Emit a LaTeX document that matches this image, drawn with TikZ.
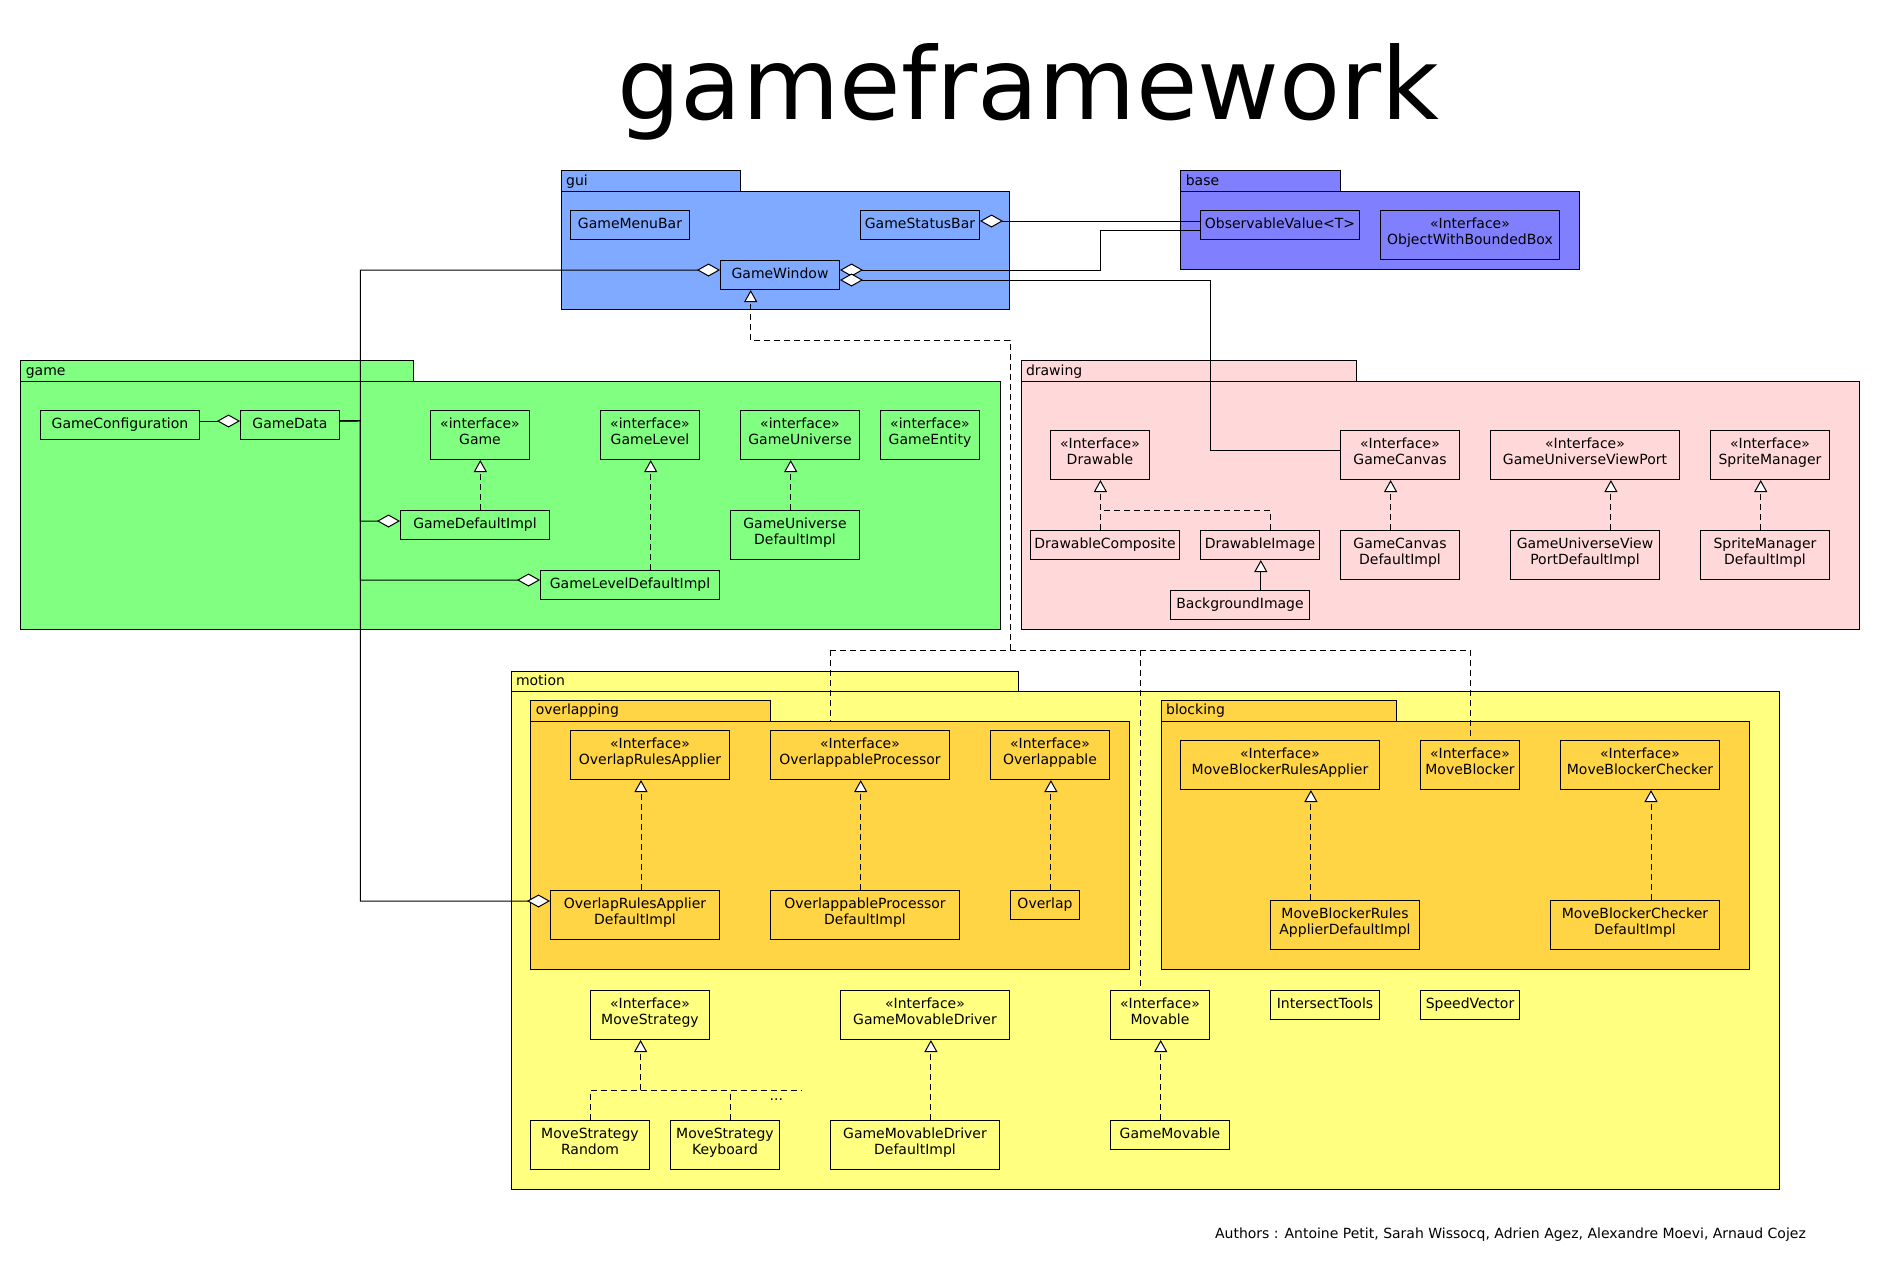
\documentclass[tikz,border=0pt]{standalone}
\usepackage{fontspec}
\setmainfont{DejaVu Sans}
\usetikzlibrary{arrows.meta,calc}
\definecolor{cgui}{HTML}{80AAFF}
\definecolor{cbase}{HTML}{8080FF}
\definecolor{cgame}{HTML}{80FF80}
\definecolor{cdraw}{HTML}{FFD9D9}
\definecolor{cmotion}{HTML}{FFFF80}
\definecolor{csub}{HTML}{FFD445}
\newcommand\umlfont{\fontsize{14}{16.5}\selectfont}
\tikzset{
  cls1/.style={draw, line width=1pt, inner sep=0pt, font=\umlfont, minimum height=29pt, text height=10.5pt, text depth=4.3pt},
  cls2/.style={draw, line width=1pt, inner sep=0pt, align=center, font=\umlfont, minimum height=49pt, text height=27.1pt, text depth=8.1pt},
  pkgbody/.style={draw, line width=1pt, inner sep=0pt, anchor=north west},
  pkgtab/.style={draw, line width=1pt, inner xsep=5pt, inner ysep=0pt, anchor=north west, minimum height=21pt, font=\umlfont, align=left, text height=10.5pt, text depth=3pt},
  agg/.style={line width=1pt, {Diamond[fill=white, length=23pt, width=13pt, line width=1pt]}-},
  dsh/.style={line width=1pt, dash pattern=on 6pt off 4pt},
  real/.style={dsh, -{Triangle[fill=white, length=12pt, width=13pt, line width=1pt]}},
  gen/.style={line width=1pt, -{Triangle[fill=white, length=12pt, width=13pt, line width=1pt]}},
}
\begin{document}
\begin{tikzpicture}[x=1pt,y=-1pt]
\fill[white] (0,0) rectangle (1880,1270);
\useasboundingbox (0,0) rectangle (1880,1270);

% title
\node[font=\fontsize{100}{120}\selectfont, anchor=base, inner sep=0pt] (title) at (1028.6,119) {gameframework};

% ---------- packages ----------
\node[pkgtab, fill=cgui, text width=169.3pt] (guiTab) at (560.7,170.3) {gui};
\node[pkgbody, fill=cgui, minimum width=448.6pt, minimum height=117.7pt] (guiBody) at (560.7,191.3) {};
\node[pkgtab, fill=cbase, text width=150pt] (baseTab) at (1180.3,170.3) {base};
\node[pkgbody, fill=cbase, minimum width=399pt, minimum height=78pt] (baseBody) at (1180.3,191.3) {};
\node[pkgtab, fill=cgame, text width=382.4pt] (gameTab) at (20.3,360.3) {game};
\node[pkgbody, fill=cgame, minimum width=979.4pt, minimum height=248pt] (gameBody) at (20.3,381.3) {};
\node[pkgtab, fill=cdraw, text width=325.7pt] (drawTab) at (1020.5,360.3) {drawing};
\node[pkgbody, fill=cdraw, minimum width=838.5pt, minimum height=248pt] (drawBody) at (1020.5,381.3) {};
\node[pkgtab, fill=cmotion, text width=497.6pt, minimum height=20.6pt] (motionTab) at (510.5,670.7) {motion};
\node[pkgbody, fill=cmotion, minimum width=1268.8pt, minimum height=498pt] (motionBody) at (510.5,691.3) {};
\node[pkgtab, fill=csub, text width=229.9pt, minimum height=20.7pt] (overTab) at (530.3,700.3) {overlapping};
\node[pkgbody, fill=csub, minimum width=598.9pt, minimum height=248.3pt] (overBody) at (530.3,721) {};
\node[pkgtab, fill=csub, text width=225.7pt, minimum height=20.7pt] (blockTab) at (1160.6,700.3) {blocking};
\node[pkgbody, fill=csub, minimum width=588.8pt, minimum height=248.3pt] (blockBody) at (1160.6,721) {};

% ---------- classes ----------
% gui / base
\node[cls1, minimum width=119pt] (GameMenuBar) at (630,225) {GameMenuBar};
\node[cls1, minimum width=119pt] (GameStatusBar) at (920,225) {GameStatusBar};
\node[cls1, minimum width=119pt] (GameWindow) at (780,275) {GameWindow};
\node[cls1, minimum width=159pt] (ObservableValue) at (1280,225) {ObservableValue<T>};
\node[cls2, minimum width=179pt] (ObjectWithBoundedBox) at (1470,235) {«Interface»\\ObjectWithBoundedBox};
% game
\node[cls1, minimum width=159pt] (GameConfiguration) at (120,425) {GameConfiguration};
\node[cls1, minimum width=99pt] (GameData) at (290,425) {GameData};
\node[cls2, minimum width=99pt] (Game) at (480,435) {«interface»\\Game};
\node[cls2, minimum width=99pt] (GameLevel) at (650,435) {«interface»\\GameLevel};
\node[cls2, minimum width=119pt] (GameUniverse) at (800,435) {«interface»\\GameUniverse};
\node[cls2, minimum width=99pt] (GameEntity) at (930,435) {«interface»\\GameEntity};
\node[cls1, minimum width=149pt] (GameDefaultImpl) at (475,525) {GameDefaultImpl};
\node[cls1, minimum width=179pt] (GameLevelDefaultImpl) at (630,585) {GameLevelDefaultImpl};
\node[cls2, minimum width=129pt] (GameUniverseDefaultImpl) at (795,535) {GameUniverse\\DefaultImpl};
% drawing
\node[cls2, minimum width=99pt] (Drawable) at (1100,455) {«Interface»\\Drawable};
\node[cls1, minimum width=149pt] (DrawableComposite) at (1105,545) {DrawableComposite};
\node[cls1, minimum width=119pt] (DrawableImage) at (1260,545) {DrawableImage};
\node[cls1, minimum width=139pt] (BackgroundImage) at (1240,605) {BackgroundImage};
\node[cls2, minimum width=119pt] (GameCanvas) at (1400,455) {«Interface»\\GameCanvas};
\node[cls2, minimum width=119pt] (GameCanvasDefaultImpl) at (1400,555) {GameCanvas\\DefaultImpl};
\node[cls2, minimum width=189pt] (GameUniverseViewPort) at (1585,455) {«Interface»\\GameUniverseViewPort};
\node[cls2, minimum width=149pt] (GUVPDefaultImpl) at (1585,555) {GameUniverseView\\PortDefaultImpl};
\node[cls2, minimum width=119pt] (SpriteManager) at (1770,455) {«Interface»\\SpriteManager};
\node[cls2, minimum width=129pt] (SpriteManagerDefaultImpl) at (1765,555) {SpriteManager\\DefaultImpl};
% overlapping
\node[cls2, minimum width=159pt] (OverlapRulesApplier) at (650,755) {«Interface»\\OverlapRulesApplier};
\node[cls2, minimum width=179pt] (OverlappableProcessor) at (860,755) {«Interface»\\OverlappableProcessor};
\node[cls2, minimum width=119pt] (Overlappable) at (1050,755) {«Interface»\\Overlappable};
\node[cls2, minimum width=169pt] (ORADefaultImpl) at (635,915) {OverlapRulesApplier\\DefaultImpl};
\node[cls2, minimum width=189pt] (OPDefaultImpl) at (865,915) {OverlappableProcessor\\DefaultImpl};
\node[cls1, minimum width=69pt] (Overlap) at (1045,905) {Overlap};
% blocking
\node[cls2, minimum width=199pt] (MoveBlockerRulesApplier) at (1280,765) {«Interface»\\MoveBlockerRulesApplier};
\node[cls2, minimum width=99pt] (MoveBlocker) at (1470,765) {«Interface»\\MoveBlocker};
\node[cls2, minimum width=159pt] (MoveBlockerChecker) at (1640,765) {«Interface»\\MoveBlockerChecker};
\node[cls2, minimum width=149pt] (MBRADefaultImpl) at (1345,925) {MoveBlockerRules\\ApplierDefaultImpl};
\node[cls2, minimum width=169pt] (MBCDefaultImpl) at (1635,925) {MoveBlockerChecker\\DefaultImpl};
% motion
\node[cls2, minimum width=119pt] (MoveStrategy) at (650,1015) {«Interface»\\MoveStrategy};
\node[cls2, minimum width=169pt] (GameMovableDriver) at (925,1015) {«Interface»\\GameMovableDriver};
\node[cls2, minimum width=99pt] (Movable) at (1160,1015) {«Interface»\\Movable};
\node[cls1, minimum width=109pt] (IntersectTools) at (1325,1005) {IntersectTools};
\node[cls1, minimum width=99pt] (SpeedVector) at (1470,1005) {SpeedVector};
\node[cls2, minimum width=119pt] (MoveStrategyRandom) at (590,1145) {MoveStrategy\\Random};
\node[cls2, minimum width=109pt] (MoveStrategyKeyboard) at (725,1145) {MoveStrategy\\Keyboard};
\node[cls2, minimum width=169pt] (GMDDefaultImpl) at (915,1145) {GameMovableDriver\\DefaultImpl};
\node[cls1, minimum width=119pt] (GameMovable) at (1170,1135) {GameMovable};
\node[font=\umlfont, inner sep=0pt] (dots) at (776.3,1100) {...};

% ---------- aggregations ----------
\draw[agg] ([yshift=4pt]GameStatusBar.east) -- ([yshift=4pt]ObservableValue.west);
\draw[agg] ([yshift=5pt]GameWindow.east) -- (1100.7,270) -- (1100.7,230.3) -- ([yshift=-5.3pt]ObservableValue.west);
\draw[agg] ([yshift=-5pt]GameWindow.east) -| (1210.3,450) -- ([yshift=5pt]GameCanvas.west);
\draw[agg] ([yshift=4pt]GameData.west) -- ([yshift=4pt]GameConfiguration.east);
\draw[agg] ([yshift=5pt]GameWindow.west) -| (360.3,420.7) -- ([yshift=4pt]GameData.east);
\draw[agg] ([yshift=4pt]GameDefaultImpl.west) -| (360.3,420.7) -- ([yshift=4pt]GameData.east);
\draw[agg] ([yshift=5pt]GameLevelDefaultImpl.west) -| (360.3,420.7) -- ([yshift=4pt]GameData.east);
\draw[agg] ([yshift=14pt]ORADefaultImpl.west) -| (360.3,420.7) -- ([yshift=4pt]GameData.east);

% ---------- realizations ----------
\coordinate (r1) at ($(GameDefaultImpl.north)+(5.3,0)$);
\draw[real] (r1) -- (r1 |- Game.south);
\coordinate (r2) at ($(GameLevelDefaultImpl.north)+(20.7,0)$);
\draw[real] (r2) -- (r2 |- GameLevel.south);
\coordinate (r3) at ($(GameUniverseDefaultImpl.north)+(-4.3,0)$);
\draw[real] (r3) -- (r3 |- GameUniverse.south);
\coordinate (r4) at ($(GameCanvasDefaultImpl.north)+(-9.4,0)$);
\draw[real] (r4) -- (r4 |- GameCanvas.south);
\coordinate (r5) at ($(GUVPDefaultImpl.north)+(25.9,0)$);
\draw[real] (r5) -- (r5 |- GameUniverseViewPort.south);
\coordinate (r6) at ($(SpriteManagerDefaultImpl.north)+(-4.3,0)$);
\draw[real] (r6) -- (r6 |- SpriteManager.south);
\coordinate (r7) at ($(ORADefaultImpl.north)+(6,0)$);
\draw[real] (r7) -- (r7 |- OverlapRulesApplier.south);
\coordinate (r8) at ($(OPDefaultImpl.north)+(-4.3,0)$);
\draw[real] (r8) -- (r8 |- OverlappableProcessor.south);
\coordinate (r9) at ($(Overlap.north)+(5.9,0)$);
\draw[real] (r9) -- (r9 |- Overlappable.south);
\coordinate (r10) at ($(MBRADefaultImpl.north)+(-34.1,0)$);
\draw[real] (r10) -- (r10 |- MoveBlockerRulesApplier.south);
\coordinate (r11) at ($(MBCDefaultImpl.north)+(16,0)$);
\draw[real] (r11) -- (r11 |- MoveBlockerChecker.south);
\coordinate (r12) at ($(GMDDefaultImpl.north)+(15.9,0)$);
\draw[real] (r12) -- (r12 |- GameMovableDriver.south);
\coordinate (r13) at ($(GameMovable.north)+(-9.3,0)$);
\draw[real] (r13) -- (r13 |- Movable.south);

% drawable
\coordinate (jD) at (1100.4,510.3);
\coordinate (dc) at ($(DrawableComposite.north)+(-4.6,0)$);
\coordinate (di) at ($(DrawableImage.north)+(10.2,0)$);
\draw[dsh] (dc) -- (dc |- jD);
\draw[real] (di) |- (jD) -- (jD |- Drawable.south);
\coordinate (bg) at ($(BackgroundImage.north)+(20.8,0)$);
\draw[gen] (bg) -- (bg |- DrawableImage.south);

% move strategy
\coordinate (jM) at (640.6,1090.3);
\coordinate (msR) at ($(MoveStrategyRandom.north)+(0.6,0)$);
\coordinate (msK) at ($(MoveStrategyKeyboard.north)+(5.7,0)$);
\coordinate (msE) at (801.5,1090.3);
\draw[dsh] (msR) -- (msR |- jM) -- (msE);
\draw[dsh] (msK) -- (msK |- jM);
\draw[real] (jM) -- (jM |- MoveStrategy.south);

% game window network
\coordinate (gw) at ($(GameWindow.south)+(-29.3,0)$);
\coordinate (gwC) at (1010.3,340.3);
\coordinate (jH) at (1010.3,650.3);
\coordinate (hL) at (830.4,650.3);
\coordinate (mv) at ($(Movable.north)+(-19.4,0)$);
\coordinate (mb) at ($(MoveBlocker.north)+(0.5,0)$);
\draw[real] (jH) -- (gwC) -| (gw);
\draw[dsh] (hL) -- (mb |- hL);
\draw[dsh] (hL) -- (hL |- overBody.north);
\draw[dsh] (mv |- hL) -- (mv);
\draw[dsh] (mb |- hL) -- (mb);

% authors
\node[font=\umlfont, anchor=base east, inner sep=0pt] (authors) at (1806,1238) {Authors : Antoine Petit, Sarah Wissocq, Adrien Agez, Alexandre Moevi, Arnaud Cojez};
\end{tikzpicture}
\end{document}
